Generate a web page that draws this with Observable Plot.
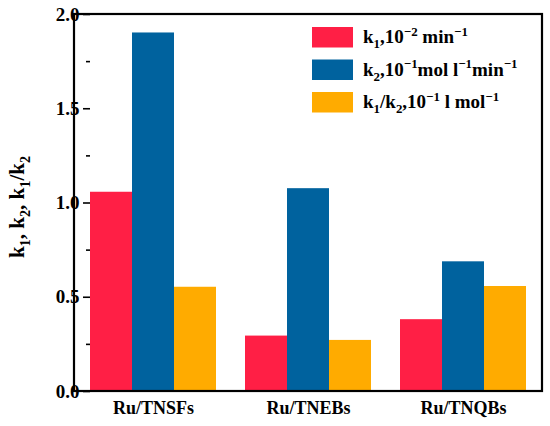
<!DOCTYPE html>
<html><head><meta charset="utf-8">
<script src="https://cdn.jsdelivr.net/npm/d3@7"></script>
<script src="https://cdn.jsdelivr.net/npm/@observablehq/plot@0.6"></script>
<style>body{margin:0;background:#fff}</style>
</head><body><div id="chart"></div>
<script>
const categories = ["Ru/TNSFs", "Ru/TNEBs", "Ru/TNQBs"];
const series = ["k1", "k2", "k1/k2"];
const k1 = [1.057, 0.294, 0.381];
const k2 = [1.902, 1.076, 0.688];
const ratio = [0.553, 0.271, 0.557];
const yTicks = [0, 0.5, 1.0, 1.5, 2.0];
const yMinorTicks = [0.25, 0.75, 1.25, 1.75];
const colors = ["#FF1F45", "#00629E", "#FFAB00"];
const legendParts = [
  [["k",""],["1","sub"],[",10",""],["−2","sup"],[" min",""],["−1","sup"]],
  [["k",""],["2","sub"],[",10",""],["−1","sup"],["mol l",""],["−1","sup"],["min",""],["−1","sup"]],
  [["k",""],["1","sub"],["/k",""],["2","sub"],[",10",""],["−1","sup"],[" l mol",""],["−1","sup"]]
];
const yLabelParts = [["k",""],["1","sub"],[", k",""],["2","sub"],[", k",""],["1","sub"],["/k",""],["2","sub"]];

const values = [k1, k2, ratio];
const data = [];
categories.forEach((c, i) => series.forEach((s, j) => data.push({cat: c, series: s, value: values[j][i]})));

const font = "'Liberation Serif', 'Times New Roman', serif";
const plot = Plot.plot({
  width: 550, height: 426,
  marginLeft: 74, marginRight: 8, marginTop: 14, marginBottom: 35,
  style: {fontFamily: font, fontSize: "19px", fontWeight: "bold", color: "#000", background: "#fff"},
  fx: {domain: categories, paddingInner: 0.19, paddingOuter: 0.1, label: null},
  x: {domain: series, padding: 0, axis: null},
  y: {domain: [0, 2]},
  color: {domain: series, range: colors},
  marks: [
    Plot.barY(data, {fx: "cat", x: "series", y: "value", fill: "series"}),
    Plot.axisFx({anchor: "bottom", tickSize: 0, tickPadding: 10, fontSize: 18, label: null}),
    Plot.axisY({ticks: yMinorTicks, tickFormat: () => "", tickSize: 4, strokeWidth: 1.6, label: null}),
    Plot.axisY({ticks: yTicks, tickFormat: d3.format(".1f"), tickSize: 7, tickPadding: 4, strokeWidth: 1.6, fontSize: 19, label: null})
  ]
});
document.getElementById("chart").appendChild(plot);

const svg = d3.select(plot);
// frame around the whole plot area, from the library's scales
const yr = plot.scale("y").range;
const fxr = plot.scale("fx").range;
svg.append("rect")
  .attr("x", Math.min(...fxr)).attr("y", Math.min(...yr))
  .attr("width", Math.abs(fxr[1] - fxr[0])).attr("height", Math.abs(yr[1] - yr[0]))
  .attr("fill", "none").attr("stroke", "#000").attr("stroke-width", 2.2);

function richText(g, parts, size) {
  const t = g.append("text").attr("font-family", font).attr("font-weight", "bold").attr("font-size", size).attr("fill", "#000");
  let shift = 0;
  parts.forEach(([txt, type]) => {
    const target = type === "sub" ? size * 0.28 : type === "sup" ? -size * 0.38 : 0;
    const ts = t.append("tspan").text(txt).attr("dy", target - shift);
    if (type) ts.attr("font-size", size * 0.68);
    shift = target;
  });
  return t;
}
const lg = svg.append("g");
const swY = [27, 59.5, 92];
series.forEach((s, i) => {
  lg.append("rect").attr("x", 312).attr("y", swY[i]).attr("width", 41).attr("height", 20.5).attr("fill", colors[i]);
  richText(lg, legendParts[i], 19).attr("x", 363).attr("y", swY[i] + 16).attr("text-anchor", "start");
});
const yl = svg.append("g").attr("transform", "translate(24,207) rotate(-90)");
richText(yl, yLabelParts, 21).attr("text-anchor", "middle");
</script>
</body></html>
